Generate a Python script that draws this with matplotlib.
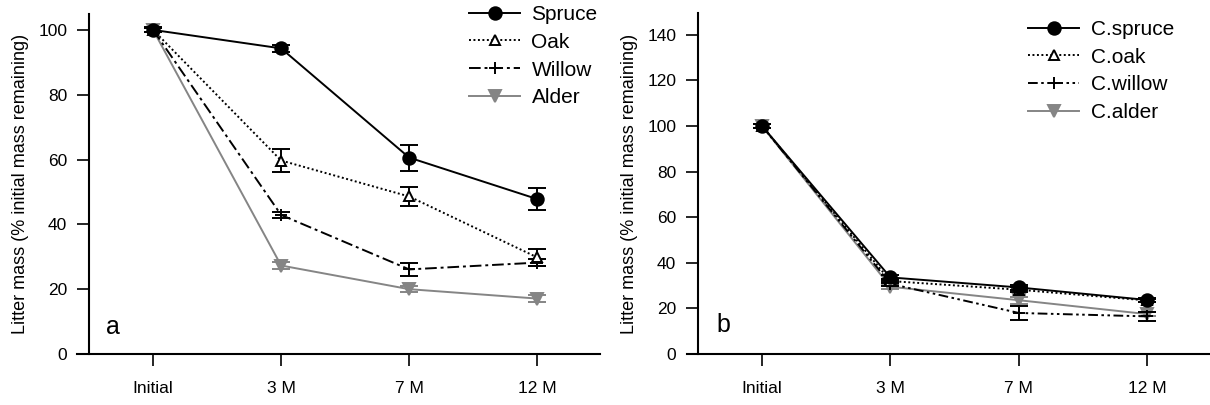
import numpy as np
import matplotlib
matplotlib.use('Agg')
import matplotlib.pyplot as plt

plt.rcParams['font.family'] = ['Liberation Sans', 'DejaVu Sans']
plt.rcParams['font.size'] = 12

months = ['Initial', '3 M', '7 M', '12 M']

# panel a
spruce = [100, 94.3, 60.6, 47.8]
spruce_se = [0.8, 1.0, 4.0, 3.5]
oak = [100, 59.7, 48.6, 29.8]
oak_se = [0.5, 3.4, 3.0, 2.5]
willow = [100, 42.9, 26.1, 28.2]
willow_se = [0.5, 1.0, 2.0, 1.0]
alder = [100, 27.3, 20.0, 17.1]
alder_se = [0.5, 1.0, 1.0, 1.2]

# panel b
c_spruce = [100, 33.6, 29.2, 23.7]
c_spruce_se = [1.0, 1.0, 1.0, 0.8]
c_oak = [100, 32.0, 28.2, 23.5]
c_oak_se = [0.8, 1.0, 1.0, 0.8]
c_willow = [100, 30.8, 18.0, 16.5]
c_willow_se = [0.8, 1.0, 3.2, 2.0]
c_alder = [100, 29.5, 23.6, 17.5]
c_alder_se = [0.8, 1.0, 1.5, 1.0]

x = np.arange(len(months))
grey = '#858585'

fig = plt.figure(figsize=(12.1, 4.05), dpi=100)
ax1 = fig.add_axes([77/1210, 1-354/405, 523/1210, (354-13.7)/405])
ax2 = fig.add_axes([687/1210, 1-354/405, 523/1210, (354-13)/405])


def series(ax, y, se, label, color, ls, marker, ms, mfc, z):
    ax.errorbar(x, y, yerr=se, color=color, ls=ls, lw=1.4, marker=marker,
                ms=ms, mfc=mfc, mec=color, mew=1.4, capsize=6.5,
                elinewidth=1.4, capthick=1.4, label=label, zorder=z)


series(ax1, spruce, spruce_se, 'Spruce', 'black', '-', 'o', 9, 'black', 5)
series(ax1, oak, oak_se, 'Oak', 'black', (0, (1, 1.3)), '^', 7, 'white', 4)
series(ax1, willow, willow_se, 'Willow', 'black', (0, (6, 2, 1.5, 2)), '+', 9, 'black', 3)
series(ax1, alder, alder_se, 'Alder', grey, '-', 'v', 8, grey, 2)

series(ax2, c_spruce, c_spruce_se, 'C.spruce', 'black', '-', 'o', 9, 'black', 5)
series(ax2, c_oak, c_oak_se, 'C.oak', 'black', (0, (1, 1.3)), '^', 7, 'white', 4)
series(ax2, c_willow, c_willow_se, 'C.willow', 'black', (0, (5, 1.8, 1.3, 1.8, 1.3, 1.8)), '+', 9, 'black', 3)
series(ax2, c_alder, c_alder_se, 'C.alder', grey, '-', 'v', 8, grey, 2)

for ax, ymax, step, top in [(ax1, 105, 20, 100), (ax2, 149.6, 20, 140)]:
    ax.set_xlim(-0.594, 3.49)
    ax.set_ylim(0, ymax)
    ax.set_xticks(x)
    ax.set_xticklabels(months)
    ax.set_yticks(np.arange(0, top + 1, step))
    ax.spines['top'].set_visible(False)
    ax.spines['right'].set_visible(False)
    ax.spines['left'].set_position(('data', -0.5))
    for s in ['left', 'bottom']:
        ax.spines[s].set_linewidth(1.5)
    ax.tick_params(axis='y', direction='out', length=8.6, width=1.2, pad=7, labelsize=12.5)
    ax.tick_params(axis='x', direction='out', length=8.6, width=1.2, pad=11, labelsize=12.5)
    ax.set_ylabel('Litter mass (% initial mass remaining)', fontsize=13, labelpad=7)

ax2.set_xlim(-0.585, 3.49)

ax1.text(-0.31, 8.3, 'a', fontsize=18, ha='center', va='center')
ax2.text(-0.30, 12.7, 'b', fontsize=18, ha='center', va='center')

for ax, bx, by in [(ax1, 469, 5), (ax2, 1028, 20)]:
    h, l = ax.get_legend_handles_labels()
    h = [hh[0] for hh in h]
    ax.legend(h, l, loc='upper left', bbox_to_anchor=(bx/1210, 1-by/405),
              bbox_transform=fig.transFigure, frameon=False, fontsize=15,
              handlelength=2.45, handletextpad=0.55, labelspacing=0.42,
              borderpad=0, borderaxespad=0)

fig.savefig('out.png', dpi=100)
